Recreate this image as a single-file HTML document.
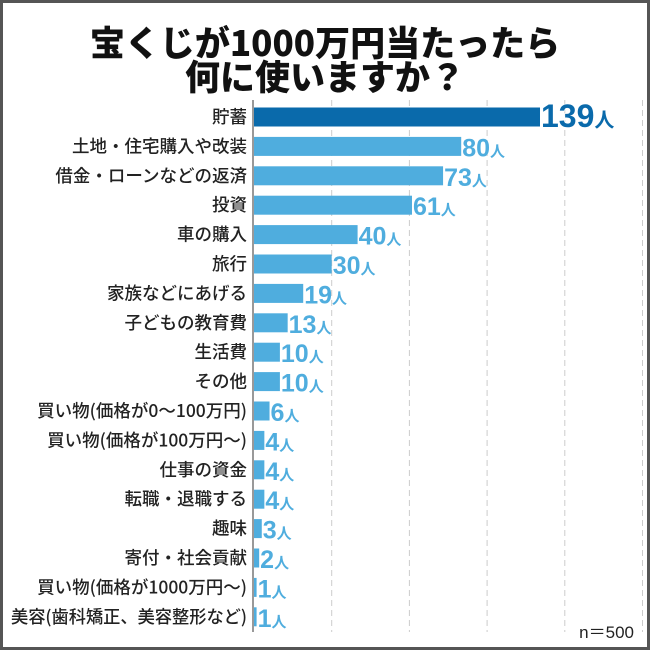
<!DOCTYPE html>
<html><head><meta charset="utf-8">
<style>
html,body{margin:0;padding:0;background:#fff;}
#wrap{position:relative;width:650px;height:650px;box-sizing:border-box;border:3px solid #555;background:#fff;overflow:hidden;font-family:"Liberation Sans","Noto Sans CJK JP",sans-serif;}
#title{position:absolute;left:0;top:22px;width:644px;text-align:center;font-weight:900;font-size:35px;line-height:34px;color:#111;font-family:"Noto Sans CJK JP","Liberation Sans",sans-serif;}
svg{position:absolute;left:-3px;top:-3px;}
</style></head><body>
<div id="wrap">
<div id="title">宝くじが1000万円当たったら<br>何に使いますか？</div>
<svg id="chart" width="650" height="650"></svg>
</div>
<script>
const categories=["貯蓄","土地・住宅購入や改装","借金・ローンなどの返済","投資","車の購入","旅行","家族などにあげる","子どもの教育費","生活費","その他","買い物(価格が0〜100万円)","買い物(価格が100万円〜)","仕事の資金","転職・退職する","趣味","寄付・社会貢献","買い物(価格が1000万円〜)","美容(歯科矯正、美容整形など)"];
const values=[139,80,73,61,40,30,19,13,10,10,6,4,4,4,3,2,1,1];
const gridTicks=[30,60,90,120,150];
const ns="http://www.w3.org/2000/svg";
const svg=document.getElementById('chart');
const x0=254, pxPer=2.59, y0=117, rowH=29.4, barH=19;
const xS=v=>x0+v*pxPer;
const yS=i=>y0+i*rowH;
function mk(t,a){const e=document.createElementNS(ns,t);for(const k in a)e.setAttribute(k,a[k]);svg.appendChild(e);return e;}
gridTicks.forEach(t=>{const g=mk('line',{x1:xS(t),x2:xS(t),y1:100,y2:632,stroke:'#ccc','stroke-dasharray':'6,4','stroke-width':1});

});
const ax=mk('line',{x1:x0-1,x2:x0-1,y1:100,y2:632,stroke:'#999','stroke-width':2});


categories.forEach((c,i)=>{
 const y=yS(i), v=values[i];
 const lab=mk('text',{x:247,y:y+6,'text-anchor':'end','font-size':17.5,'font-weight':500,fill:'#222','font-family':'"Noto Sans CJK JP","Liberation Sans",sans-serif'});
 lab.textContent=c;
 
 
 const w=lab.getComputedTextLength();
 if(w>236){lab.setAttribute('textLength',236);lab.setAttribute('lengthAdjust','spacingAndGlyphs');}
 let end=xS(v);
 const top=i===0;
 if(top) end=Math.min(end,540);
 const b=mk('rect',{x:x0,y:y-barH/2,width:Math.max(end-x0,2),height:barH,fill:top?'#0a6aab':'#4fadde'});
 
 
 const vt=mk('text',{x:end+1,y:y+10,'font-size':top?32:25,'font-weight':'bold',fill:top?'#0a6aab':'#4fadde',stroke:'#fff','stroke-width':top?1.5:0,'paint-order':'stroke'});
 vt.textContent=v;
 const ts=document.createElementNS(ns,'tspan');ts.setAttribute('font-size',top?20:15);ts.textContent='人';vt.appendChild(ts);
 
 
});
const n=mk('text',{x:634,y:638,'text-anchor':'end','font-size':17,fill:'#222'});
n.textContent='n＝500';


</script>
</body></html>
